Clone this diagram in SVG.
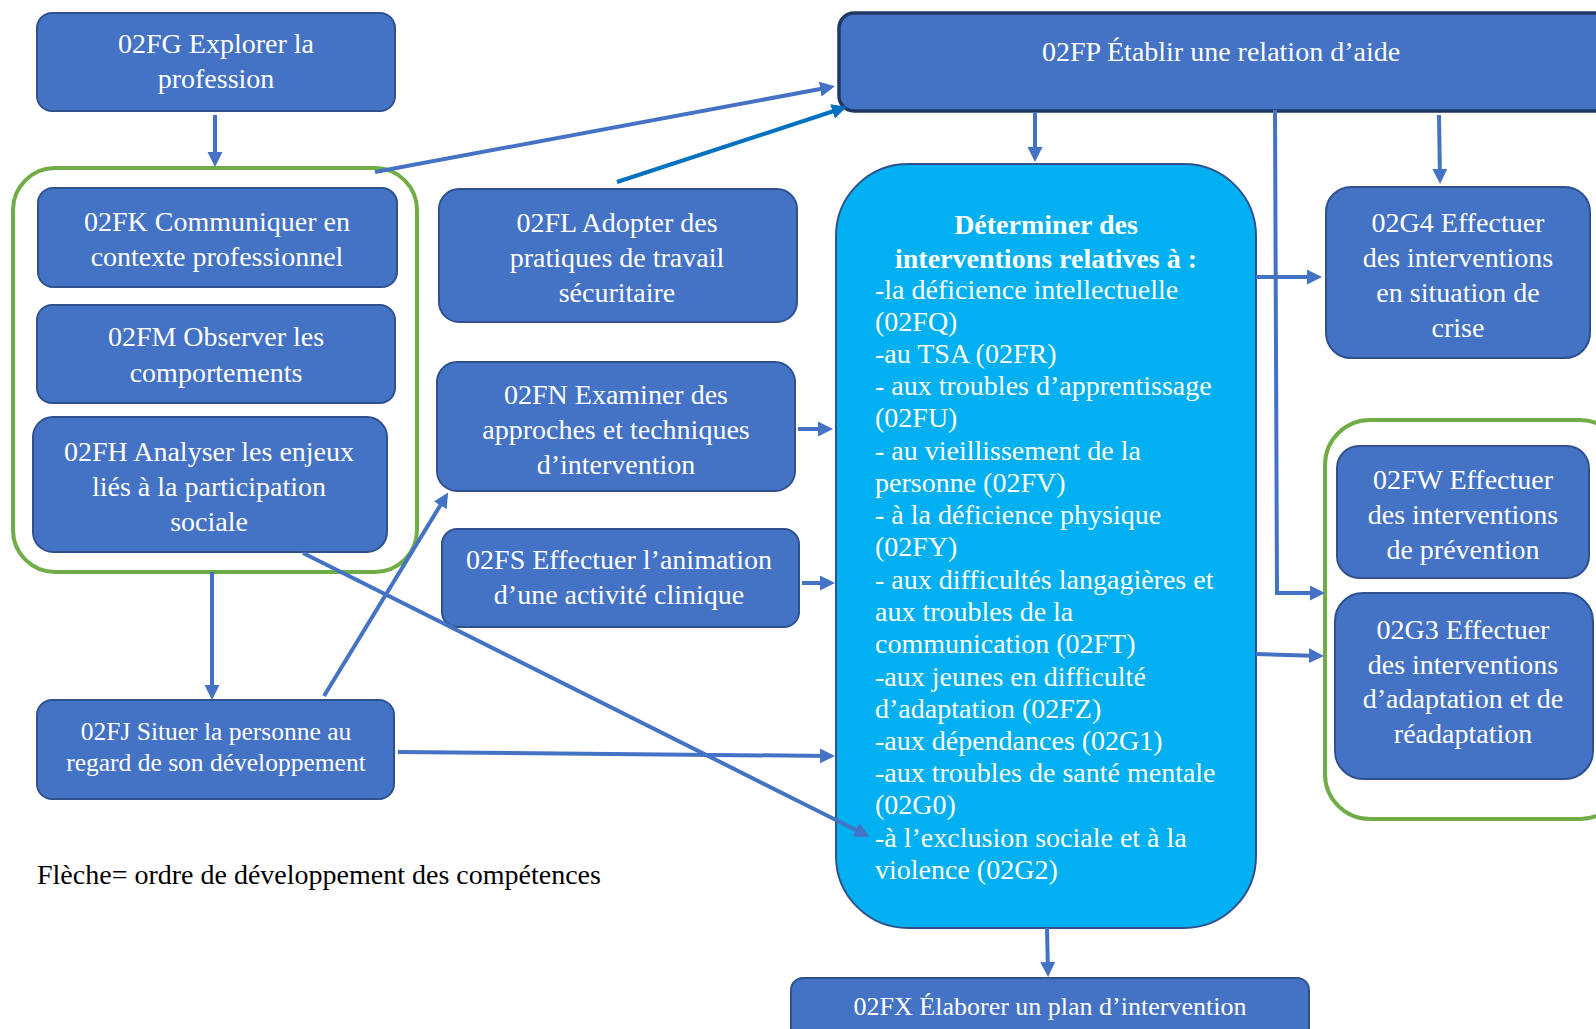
<svg xmlns="http://www.w3.org/2000/svg" width="1596" height="1029" viewBox="0 0 1596 1029">
<style>
.box{fill:#4472C4;stroke:#2F528F;stroke-width:2}
.t{font-family:"Liberation Serif","Times New Roman",serif;font-size:28px;fill:#FFFFFF;text-anchor:middle}
.tl{font-family:"Liberation Serif","Times New Roman",serif;font-size:28px;fill:#FFFFFF}
.grp{fill:none;stroke:#70AD47;stroke-width:4}
.c{fill:none;stroke:#4472C4;stroke-width:4}
.c2{fill:none;stroke:#0070C0;stroke-width:4}
</style>
<defs>
<marker id="ah" markerUnits="userSpaceOnUse" markerWidth="16" markerHeight="16" refX="11" refY="7.5" orient="auto">
<path d="M0,0 L15,7.5 L0,15 z" fill="#4472C4"/>
</marker>
<marker id="ah2" markerUnits="userSpaceOnUse" markerWidth="16" markerHeight="16" refX="11" refY="7.5" orient="auto">
<path d="M0,0 L15,7.5 L0,15 z" fill="#0070C0"/>
</marker>
</defs>
<rect width="1596" height="1029" fill="#FFFFFF"/>

<g id="group-left">
<rect class="grp" x="13" y="168" width="404" height="404" rx="42"/>
</g>
<g id="group-right">
<rect class="grp" x="1325" y="420" width="300" height="399" rx="45"/>
</g>

<g id="n02FG">
<rect class="box" x="37" y="13" width="358" height="98" rx="15"/>
<text class="t" x="216" y="53">02FG Explorer la</text>
<text class="t" x="216" y="88">profession</text>
</g>
<g id="n02FK">
<rect class="box" x="38" y="188" width="359" height="99" rx="15"/>
<text class="t" x="217" y="231">02FK Communiquer en</text>
<text class="t" x="217" y="266">contexte professionnel</text>
</g>
<g id="n02FM">
<rect class="box" x="37" y="305" width="358" height="98" rx="15"/>
<text class="t" x="216" y="346">02FM Observer les</text>
<text class="t" x="216" y="382">comportements</text>
</g>
<g id="n02FH">
<rect class="box" x="33" y="417" width="354" height="135" rx="20"/>
<text class="t" x="209" y="461">02FH Analyser les enjeux</text>
<text class="t" x="209" y="496">liés à la participation</text>
<text class="t" x="209" y="531">sociale</text>
</g>
<g id="n02FL">
<rect class="box" x="439" y="189" width="358" height="133" rx="20"/>
<text class="t" x="617" y="232">02FL Adopter des</text>
<text class="t" x="617" y="267">pratiques de travail</text>
<text class="t" x="617" y="302">sécuritaire</text>
</g>
<g id="n02FN">
<rect class="box" x="437" y="362" width="358" height="129" rx="20"/>
<text class="t" x="616" y="404">02FN Examiner des</text>
<text class="t" x="616" y="439">approches et techniques</text>
<text class="t" x="616" y="474">d’intervention</text>
</g>
<g id="n02FS">
<rect class="box" x="442" y="529" width="357" height="98" rx="15"/>
<text class="t" x="619" y="569">02FS Effectuer l’animation</text>
<text class="t" x="619" y="604">d’une activité clinique</text>
</g>
<g id="n02FJ">
<rect class="box" x="37" y="700" width="357" height="99" rx="15"/>
<text class="t" x="216" y="740" style="font-size:25.5px">02FJ Situer la personne au</text>
<text class="t" x="216" y="771" style="font-size:25.5px">regard de son développement</text>
</g>
<g id="n02FP">
<rect x="839" y="13" width="800" height="98" rx="15" fill="#4472C4" stroke="#1F3864" stroke-width="3.5"/>
<text class="t" x="1221" y="61">02FP Établir une relation d’aide</text>
</g>
<g id="n02G4">
<rect class="box" x="1326" y="187" width="264" height="171" rx="25"/>
<text class="t" x="1458" y="232">02G4 Effectuer</text>
<text class="t" x="1458" y="267">des interventions</text>
<text class="t" x="1458" y="302">en situation de</text>
<text class="t" x="1458" y="337">crise</text>
</g>
<g id="n02FW">
<rect class="box" x="1337" y="446" width="252" height="132" rx="22"/>
<text class="t" x="1463" y="489">02FW Effectuer</text>
<text class="t" x="1463" y="524">des interventions</text>
<text class="t" x="1463" y="559">de prévention</text>
</g>
<g id="n02G3">
<rect class="box" x="1335" y="593" width="258" height="186" rx="28"/>
<text class="t" x="1463" y="639">02G3 Effectuer</text>
<text class="t" x="1463" y="673.5">des interventions</text>
<text class="t" x="1463" y="708">d’adaptation et de</text>
<text class="t" x="1463" y="742.5">réadaptation</text>
</g>
<g id="nDeterminer">
<rect x="836" y="164" width="420" height="764" rx="72" fill="#00B0F0" stroke="#2F528F" stroke-width="2"/>
<text class="t" x="1046" y="234" style="font-weight:bold">Déterminer des</text>
<text class="t" x="1046" y="268" style="font-weight:bold">interventions relatives à :</text>
<text class="tl" x="875" y="299">-la déficience intellectuelle</text>
<text class="tl" x="875" y="331">(02FQ)</text>
<text class="tl" x="875" y="363">-au TSA (02FR)</text>
<text class="tl" x="875" y="395">- aux troubles d’apprentissage</text>
<text class="tl" x="875" y="427">(02FU)</text>
<text class="tl" x="875" y="460">- au vieillissement de la</text>
<text class="tl" x="875" y="492">personne (02FV)</text>
<text class="tl" x="875" y="524">- à la déficience physique</text>
<text class="tl" x="875" y="556">(02FY)</text>
<text class="tl" x="875" y="589">- aux difficultés langagières et</text>
<text class="tl" x="875" y="621">aux troubles de la</text>
<text class="tl" x="875" y="653">communication (02FT)</text>
<text class="tl" x="875" y="686">-aux jeunes en difficulté</text>
<text class="tl" x="875" y="718">d’adaptation (02FZ)</text>
<text class="tl" x="875" y="750">-aux dépendances (02G1)</text>
<text class="tl" x="875" y="782">-aux troubles de santé mentale</text>
<text class="tl" x="875" y="814">(02G0)</text>
<text class="tl" x="875" y="847">-à l’exclusion sociale et à la</text>
<text class="tl" x="875" y="879">violence (02G2)</text>
</g>
<g id="n02FX">
<rect class="box" x="791" y="978" width="518" height="70" rx="12"/>
<text class="t" x="1050" y="1015" style="font-size:26px">02FX Élaborer un plan d’intervention</text>
</g>
<g id="legend">
<text x="37" y="884" style="font-family:'Liberation Serif','Times New Roman',serif;font-size:28px;fill:#000000">Flèche= ordre de développement des compétences</text>
</g>

<g id="connectors">
<line class="c" x1="215" y1="115" x2="215" y2="163" marker-end="url(#ah)"/>
<line class="c" x1="375" y1="172" x2="831" y2="87" marker-end="url(#ah)"/>
<line class="c2" x1="617" y1="182" x2="843" y2="108" marker-end="url(#ah2)"/>
<line class="c" x1="1035" y1="112" x2="1035" y2="158" marker-end="url(#ah)"/>
<line class="c" x1="1439" y1="115" x2="1440" y2="180" marker-end="url(#ah)"/>
<polyline class="c" points="1275,110 1277,593 1321,593" marker-end="url(#ah)"/>
<line class="c" x1="1256" y1="277" x2="1318" y2="277" marker-end="url(#ah)"/>
<line class="c" x1="1256" y1="654" x2="1320" y2="656" marker-end="url(#ah)"/>
<line class="c" x1="798" y1="429" x2="829" y2="429" marker-end="url(#ah)"/>
<line class="c" x1="802" y1="583" x2="831" y2="583" marker-end="url(#ah)"/>
<line class="c" x1="212" y1="572" x2="212" y2="696" marker-end="url(#ah)"/>
<line class="c" x1="324" y1="696" x2="446" y2="496" marker-end="url(#ah)"/>
<line class="c" x1="303" y1="553" x2="866" y2="835" marker-end="url(#ah)"/>
<line class="c" x1="398" y1="752" x2="831" y2="756" marker-end="url(#ah)"/>
<line class="c" x1="1047" y1="928" x2="1048" y2="973" marker-end="url(#ah)"/>
</g>
</svg>
